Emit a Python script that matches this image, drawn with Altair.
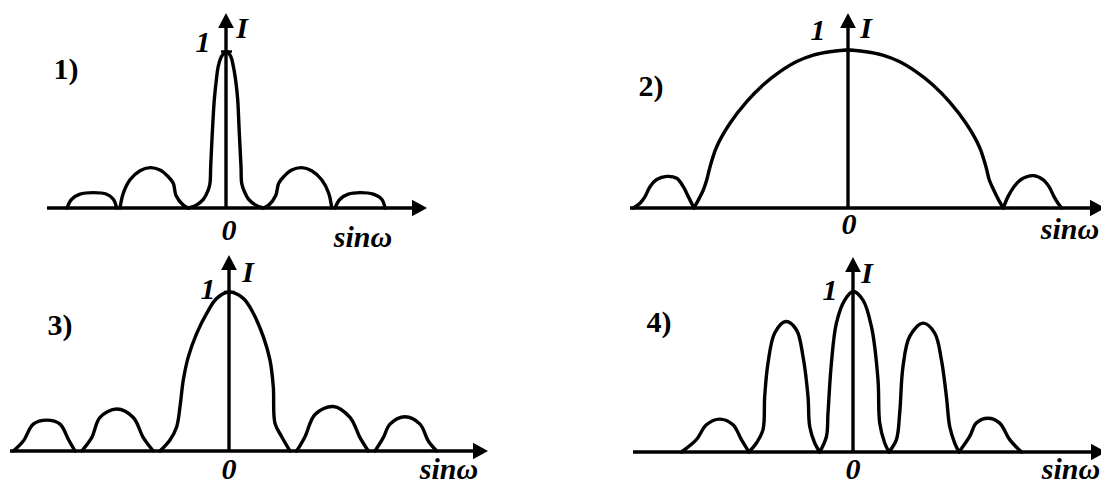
import altair as alt
import pandas as pd

W, H = 1101, 484
KX = 100.0  # pixels per unit of sinφ on every panel

# ---------------------------------------------------------------
# Intensity curves. Each lobe is a pair (sinφ values, I values),
# I normalised so that the central maximum equals 1.
# ---------------------------------------------------------------
P1_LOBES = [
    ([-1.59, -1.543, -1.46, -1.327, -1.193, -1.127, -1.093],
     [0, 0.056, 0.088, 0.098, 0.088, 0.056, 0]),
    ([-1.06, -1.027, -0.96, -0.86, -0.76, -0.66, -0.577, -0.527, -0.50, -0.43, -0.377],
     [0, 0.094, 0.18, 0.238, 0.258, 0.243, 0.2, 0.158, 0.08, 0.02, 0]),
    ([-0.377, -0.293, -0.227, -0.177, -0.16, -0.153, -0.137, -0.117, -0.10, -0.077, -0.043,
      0.005, 0.047, 0.073, 0.10, 0.117, 0.133, 0.15, 0.157, 0.177, 0.227, 0.293, 0.373],
     [0, 0.02, 0.055, 0.116, 0.158, 0.265, 0.479, 0.692, 0.799, 0.906, 0.97,
      1.0, 0.97, 0.906, 0.799, 0.692, 0.479, 0.265, 0.158, 0.116, 0.055, 0.02, 0]),
    ([0.373, 0.43, 0.497, 0.527, 0.577, 0.657, 0.757, 0.857, 0.957, 1.027, 1.057],
     [0, 0.02, 0.08, 0.158, 0.2, 0.243, 0.258, 0.238, 0.18, 0.094, 0]),
    ([1.09, 1.14, 1.223, 1.34, 1.473, 1.557, 1.59],
     [0, 0.056, 0.088, 0.098, 0.088, 0.056, 0]),
]

P2_LOBES = [
    ([-2.147, -2.08, -2.03, -1.98, -1.913, -1.813, -1.713, -1.647, -1.597, -1.54],
     [0, 0.03, 0.072, 0.135, 0.18, 0.2, 0.188, 0.135, 0.072, 0]),
    ([-1.54, -1.497, -1.447, -1.413, -1.38, -1.313, -1.18, -1.013, -0.847, -0.68, -0.513,
      -0.347, -0.18, 0, 0.18, 0.347, 0.513, 0.68, 0.847, 1.013, 1.18, 1.313, 1.38, 1.413,
      1.457, 1.507, 1.553],
     [0, 0.05, 0.114, 0.177, 0.26, 0.388, 0.536, 0.673, 0.78, 0.863, 0.927,
      0.968, 0.989, 1, 0.989, 0.968, 0.927, 0.863, 0.78, 0.673, 0.536, 0.388, 0.26, 0.177,
      0.114, 0.05, 0]),
    ([1.553, 1.60, 1.66, 1.73, 1.853, 1.95, 2.01, 2.06, 2.10, 2.137],
     [0, 0.072, 0.135, 0.18, 0.205, 0.18, 0.135, 0.072, 0.03, 0]),
]

P3_LOBES = [
    ([-2.157, -2.057, -1.957, -1.823, -1.69, -1.607, -1.54],
     [0, 0.063, 0.169, 0.194, 0.169, 0.074, 0]),
    ([-1.473, -1.373, -1.29, -1.123, -0.957, -0.857, -0.757],
     [0, 0.084, 0.211, 0.264, 0.211, 0.084, 0]),
    ([-0.69, -0.59, -0.523, -0.49, -0.457, -0.407, -0.323, -0.223, -0.123, 0,
      0.143, 0.243, 0.343, 0.41, 0.443, 0.46, 0.527, 0.61],
     [0, 0.069, 0.153, 0.278, 0.446, 0.592, 0.74, 0.866, 0.96, 1,
      0.96, 0.866, 0.719, 0.571, 0.404, 0.174, 0.09, 0]),
    ([0.677, 0.76, 0.86, 1.043, 1.21, 1.31, 1.393],
     [0, 0.09, 0.23, 0.28, 0.211, 0.084, 0]),
    ([1.46, 1.543, 1.61, 1.76, 1.91, 1.993, 2.077],
     [0, 0.084, 0.169, 0.215, 0.169, 0.063, 0]),
]

P4_LOBES = [
    ([-1.716, -1.566, -1.466, -1.333, -1.20, -1.116, -1.04],
     [0, 0.077, 0.17, 0.205, 0.17, 0.077, 0]),
    ([-1.04, -0.966, -0.90, -0.883, -0.85, -0.783, -0.673, -0.566, -0.50, -0.45, -0.433,
      -0.383, -0.333],
     [0, 0.056, 0.139, 0.346, 0.554, 0.741, 0.813, 0.762, 0.595, 0.346, 0.159, 0.056, 0]),
    ([-0.333, -0.266, -0.25, -0.216, -0.166, -0.083, 0, 0.10, 0.184, 0.25, 0.267, 0.317, 0.36],
     [0, 0.095, 0.243, 0.554, 0.803, 0.946, 1, 0.946, 0.782, 0.45, 0.18, 0.056, 0]),
    ([0.36, 0.434, 0.467, 0.50, 0.567, 0.70, 0.817, 0.884, 0.934, 0.967, 1.017, 1.06],
     [0, 0.077, 0.243, 0.533, 0.72, 0.803, 0.741, 0.575, 0.346, 0.159, 0.056, 0]),
    ([1.06, 1.167, 1.233, 1.35, 1.467, 1.567, 1.684],
     [0, 0.097, 0.18, 0.21, 0.18, 0.077, 0]),
]

X_LABEL = "sinω"
Y_LABEL = "I"

# ---------------------------------------------------------------
# Panel placement on the canvas (pixels): origin column cx,
# baseline row by, pixels per unit of I, axis ends, label spots.
# ---------------------------------------------------------------
PANELS = [
    dict(lobes=P1_LOBES, cx=226, by=208, ky=156.5, left=47, tip=427, top=13, tick=True,
         labels=[("1)", 66, 79, "b"), ("1", 203, 52, "bi"), (Y_LABEL, 242, 38, "bi"),
                 ("0", 229, 240, "bi"), (X_LABEL, 363, 247, "bi")]),
    dict(lobes=P2_LOBES, cx=848, by=208, ky=158, left=630, tip=1105, top=13, tick=True,
         labels=[("2)", 651, 96, "b"), ("1", 818, 40, "bi"), (Y_LABEL, 866, 38, "bi"),
                 ("0", 849, 234, "bi"), (X_LABEL, 1070, 239, "bi")]),
    dict(lobes=P3_LOBES, cx=229, by=451, ky=159, left=10, tip=488, top=255, tick=True,
         labels=[("3)", 60, 335, "b"), ("1", 208, 299, "bi"), (Y_LABEL, 248, 282, "bi"),
                 ("0", 229, 479, "bi"), (X_LABEL, 449, 479, "bi")]),
    dict(lobes=P4_LOBES, cx=853, by=452, ky=160.5, left=633, tip=1106, top=257, tick=False,
         labels=[("4)", 659, 332, "b"), ("1", 830, 300, "bi"), (Y_LABEL, 867, 283, "bi"),
                 ("0", 853, 479, "bi"), (X_LABEL, 1071, 479, "bi")]),
]

FONT = "Liberation Serif"
FONT_SIZE = 30
LINE_W = 3.4
HEAD = 7.5  # arrow head half-length in pixels
H_ARROW = "M -2 -1.1 L 0 0 L -2 1.1 Z"
V_ARROW = "M -1.05 2 L 0 0 L 1.05 2 Z"


def panel(p):
    cx, by, ky = p["cx"], p["by"], p["ky"]
    xs = alt.Scale(domain=[-cx / KX, (W - cx) / KX], nice=False, zero=False)
    ys = alt.Scale(domain=[(by - H) / ky, by / ky], nice=False, zero=False)

    def X(f="x"):
        return alt.X(f"{f}:Q", scale=xs, axis=None)

    def Y(f="y"):
        return alt.Y(f"{f}:Q", scale=ys, axis=None)

    rows = []
    for k, (xv, iv) in enumerate(p["lobes"]):
        for j, (a, b) in enumerate(zip(xv, iv)):
            rows.append({"lobe": k, "j": j, "x": a, "y": b})
    curve = alt.Chart(pd.DataFrame(rows)).mark_line(
        interpolate="catmull-rom", color="black", strokeWidth=LINE_W,
        strokeCap="round", strokeJoin="round",
    ).encode(x=X(), y=Y(), detail="lobe:N", order="j:Q")

    x_left = (p["left"] - cx) / KX
    x_tip = (p["tip"] - cx) / KX
    x_stop = (p["tip"] - 2 * HEAD + 2 - cx) / KX
    y_tip = (by - p["top"]) / ky
    y_stop = (by - p["top"] - 2 * HEAD + 2) / ky

    h_axis = alt.Chart(pd.DataFrame([{"x": x_left, "x2": x_stop, "y": 0}])).mark_rule(
        color="black", strokeWidth=LINE_W
    ).encode(x=X(), x2="x2:Q", y=Y())
    v_axis = alt.Chart(pd.DataFrame([{"x": 0, "y": 0, "y2": y_stop}])).mark_rule(
        color="black", strokeWidth=LINE_W
    ).encode(x=X(), y=Y(), y2="y2:Q")

    h_head = alt.Chart(pd.DataFrame([{"x": x_tip, "y": 0}])).mark_point(
        shape=H_ARROW, filled=True, size=(2 * HEAD) ** 2, color="black", opacity=1, strokeWidth=0
    ).encode(x=X(), y=Y())
    v_head = alt.Chart(pd.DataFrame([{"x": 0, "y": y_tip}])).mark_point(
        shape=V_ARROW, filled=True, size=(2 * HEAD) ** 2, color="black", opacity=1, strokeWidth=0
    ).encode(x=X(), y=Y())

    layers = [curve, h_axis, v_axis, h_head, v_head]

    if p["tick"]:
        tick = alt.Chart(pd.DataFrame([{"x": -0.05, "x2": 0.06, "y": 1}])).mark_rule(
            color="black", strokeWidth=2.5
        ).encode(x=X(), x2="x2:Q", y=Y())
        layers.append(tick)

    lab = pd.DataFrame(
        [{"t": t, "x": (px - cx) / KX, "y": (by - py) / ky, "k": k} for t, px, py, k in p["labels"]]
    )
    plain = alt.Chart(lab[lab.k == "b"]).mark_text(
        font=FONT, fontSize=FONT_SIZE, fontWeight="bold", align="center",
        baseline="alphabetic", color="black",
    ).encode(x=X(), y=Y(), text="t:N")
    ital = alt.Chart(lab[lab.k == "bi"]).mark_text(
        font=FONT, fontSize=FONT_SIZE, fontWeight="bold", fontStyle="italic",
        align="center", baseline="alphabetic", color="black",
    ).encode(x=X(), y=Y(), text="t:N")
    layers += [plain, ital]
    return alt.layer(*layers)


chart = (
    alt.layer(*[panel(p) for p in PANELS])
    .resolve_scale(x="independent", y="independent")
    .properties(
        width=W, height=H, padding=0,
        autosize=alt.AutoSizeParams(type="none"), background="white",
    )
    .configure_view(strokeWidth=0)
)

chart.save("out.html", embed_options={"renderer": "svg", "actions": False})
